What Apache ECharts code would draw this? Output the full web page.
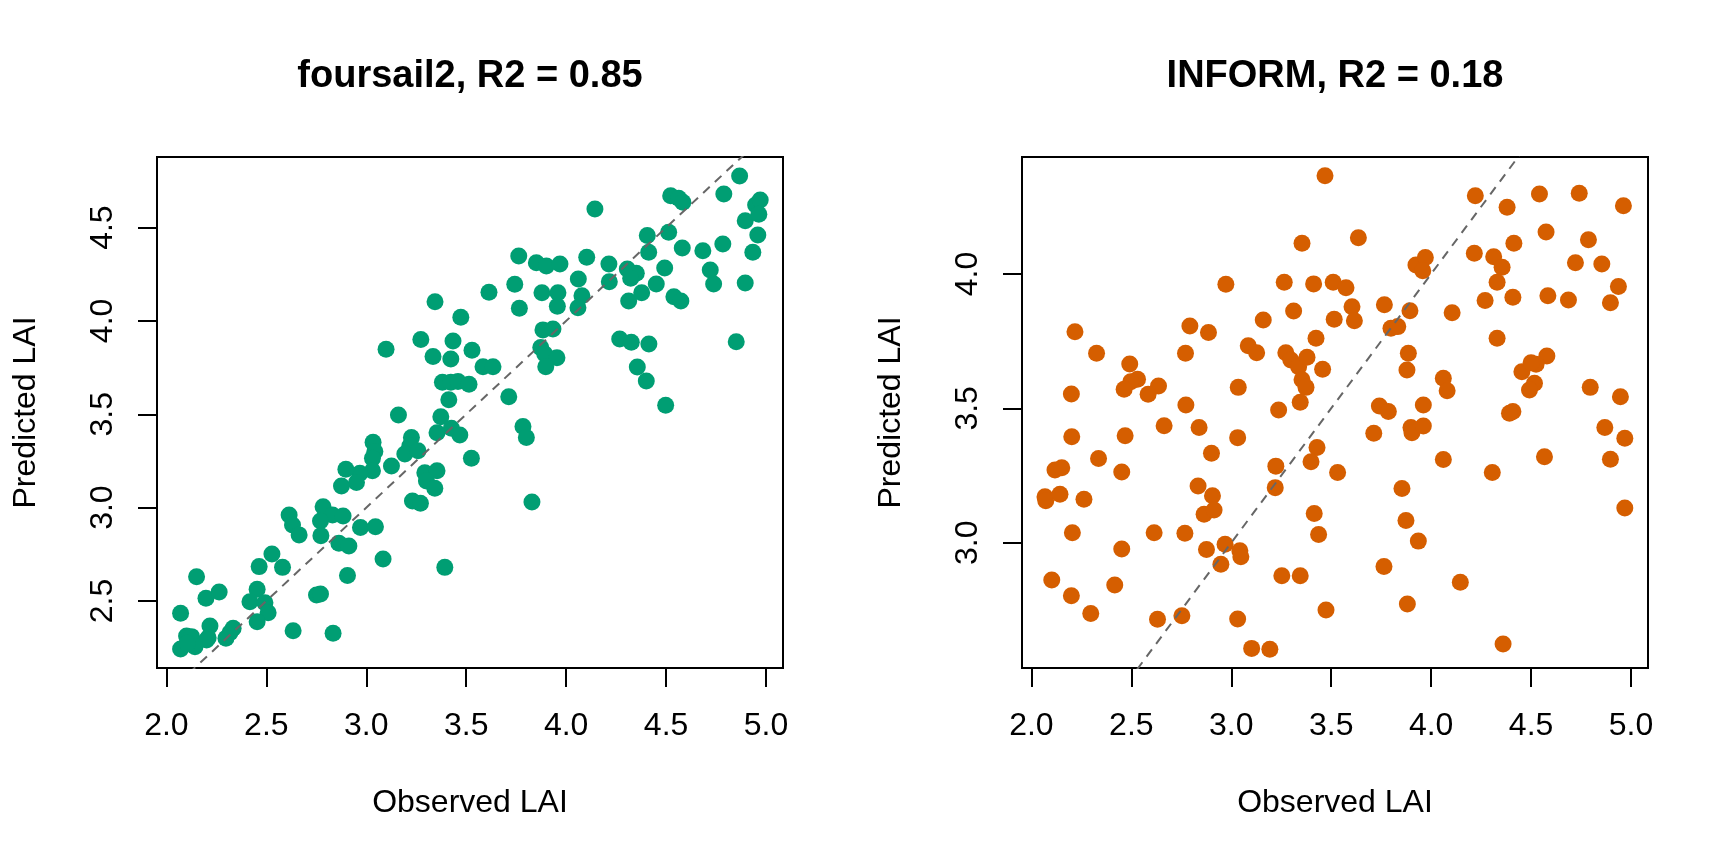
<!DOCTYPE html>
<html><head><meta charset="utf-8">
<script src="https://cdn.jsdelivr.net/npm/echarts@6/dist/echarts.min.js"></script>
<style>html,body{margin:0;padding:0;background:#fff}#c{width:1728px;height:864px}</style>
</head><body><div id="c"></div>
<script>
const xTicks = [2.0, 2.5, 3.0, 3.5, 4.0, 4.5, 5.0];
const foursailYTicks = [2.5, 3.0, 3.5, 4.0, 4.5];
const informYTicks = [3.0, 3.5, 4.0];
const titles = ['foursail2, R2 = 0.85', 'INFORM, R2 = 0.18'];
const xName = 'Observed LAI';
const yName = 'Predicted LAI';

const foursailObserved = [3.344,3.473,3.099,3.273,3.434,3.334,3.423,3.529,3.381,3.423,3.459,3.514,3.413,3.161,3.373,
3.584,3.634,3.614,3.763,3.743,3.766,3.851,3.901,3.969,3.879,3.959,3.956,4.144,4.103,4.061,4.079,4.059,4.214,4.216,4.306,
4.351,4.323,4.313,4.378,4.406,4.413,4.451,4.493,4.513,4.523,4.563,4.584,4.581,4.539,4.574,4.684,4.721,4.738,4.784,4.789,
4.868,4.896,4.934,4.896,4.959,4.948,4.971,4.964,4.851,4.268,4.326,4.414,4.356,4.401,4.498,3.713,3.884,3.934,3.873,3.893,
3.954,3.898,3.784,3.801,3.526,3.829,3.426,3.468,3.354,3.226,3.218,3.193,3.259,3.034,3.043,3.031,3.031,3.126,2.968,2.951,
2.898,2.876,3.293,3.354,3.301,3.343,3.231,3.271,3.393,3.084,2.906,2.784,2.831,2.884,2.771,2.773,2.863,2.913,2.971,3.046,
2.614,2.631,2.664,2.528,2.464,2.581,2.151,2.198,2.264,2.071,2.454,2.418,2.493,2.509,2.454,2.751,2.771,2.634,2.834,2.218,
2.334,2.318,2.298,2.209,2.201,2.101,2.126,2.143,2.071,2.104];
const foursailPredicted = [4.103,4.020,3.848,3.900,3.893,3.809,3.796,3.843,3.671,3.671,3.675,3.661,3.578,3.496,3.487,
3.755,3.755,4.153,4.348,4.196,4.068,4.312,4.294,4.305,4.151,4.151,4.078,4.600,4.341,4.225,4.135,4.071,4.305,4.210,4.278,
4.255,4.228,4.107,4.151,4.457,4.368,4.198,4.284,4.475,4.671,4.657,4.636,4.391,4.130,4.107,4.376,4.273,4.198,4.412,4.680,
4.776,4.537,4.368,4.203,4.460,4.621,4.648,4.571,3.889,3.903,3.886,3.877,3.753,3.678,3.548,3.594,3.952,3.957,3.857,3.823,
3.803,3.755,3.434,3.375,3.264,3.030,3.425,3.389,3.401,3.375,3.330,3.287,3.305,3.350,3.300,3.264,3.198,3.223,3.184,3.134,
3.205,3.116,3.187,3.198,3.143,3.104,3.036,3.023,2.680,2.725,2.636,3.005,2.961,2.955,2.928,2.850,2.809,2.795,2.893,2.898,
2.961,2.907,2.854,2.752,2.684,2.680,2.630,2.514,2.548,2.434,2.563,2.496,2.491,2.437,2.389,2.532,2.537,2.341,2.327,2.366,
2.354,2.330,2.300,2.303,2.291,2.313,2.309,2.255,2.243,2.273];

const informObserved = [3.469,3.354,2.973,3.265,3.412,3.510,3.574,3.312,3.515,3.160,2.218,2.793,2.886,3.424,2.326,2.771,
3.085,3.127,3.273,3.298,3.337,3.379,3.457,2.492,2.531,2.497,2.464,2.636,2.584,2.200,3.035,3.354,3.374,2.773,3.237,3.345,
2.664,2.839,2.202,2.469,3.032,2.901,2.336,2.118,2.152,2.452,2.068,2.072,2.143,2.263,2.834,2.906,2.864,2.914,3.223,3.220,
3.429,3.399,3.532,3.415,3.437,2.205,2.614,2.768,2.452,2.876,2.969,3.043,3.048,2.948,2.102,2.417,2.200,2.297,2.631,2.753,
3.032,3.253,3.345,3.474,3.102,3.193,
3.636,3.604,3.616,4.221,4.380,4.542,4.741,4.962,4.575,4.787,4.414,4.216,4.313,4.355,4.722,4.854,4.330,4.270,4.409,4.584,
4.687,4.937,4.897,3.924,3.971,3.958,3.766,3.894,4.105,3.799,3.833,4.330,3.886,3.879,4.061,4.080,3.741,3.786,3.961,4.579,
4.525,4.454,4.500,4.517,4.492,4.796,4.947,4.409,4.392,
3.713,3.899,3.904,3.961,4.061,4.306,4.567,4.869,4.969,4.897,4.969,3.854,3.874,3.936,3.764,4.146,3.881,4.360];
const informPredicted = [4.365,4.114,3.962,3.969,3.963,3.969,3.949,3.862,3.831,3.829,3.785,3.806,3.782,3.761,3.705,3.705,
3.733,3.707,3.707,3.680,3.655,3.690,3.645,3.665,3.608,3.599,3.571,3.583,3.552,3.553,3.578,3.606,3.578,3.512,3.494,3.523,
3.435,3.429,3.394,3.398,3.391,3.333,3.313,3.271,3.279,3.263,3.171,3.156,3.180,3.162,3.211,3.175,3.106,3.122,3.285,3.205,
3.354,3.301,3.261,3.109,3.031,3.037,3.037,3.035,2.977,2.975,2.994,2.970,2.948,2.920,2.861,2.843,2.803,2.737,2.715,2.728,
2.716,2.877,2.877,2.750,2.607,2.604,
4.135,3.878,3.826,4.291,4.248,4.297,4.300,4.254,4.156,4.127,4.114,4.077,4.064,4.025,4.042,4.037,3.969,3.901,3.913,3.919,
3.903,3.953,3.893,4.033,4.061,4.012,3.885,3.863,3.856,3.798,3.804,3.761,3.705,3.643,3.612,3.565,3.509,3.488,3.512,3.695,
3.664,3.636,3.670,3.593,3.568,3.578,3.543,3.488,3.482,
3.407,3.429,3.409,3.434,3.310,3.261,3.320,3.429,3.389,3.311,3.129,3.202,3.083,3.006,2.912,2.853,2.772,2.623];

const oneToOne = [1, 6];

const F = '"Liberation Sans", Arial, Helvetica, sans-serif';
const xRange = [1.953, 5.085];
const yRanges = [[2.141, 4.878], [2.534, 4.435]];
const colors = ['#009E73', '#D55E00'];
const gridLefts = [157, 1022];
const gridW = 626, gridTop = 157, gridH = 511;

function pairs(xs, ys) { return xs.map((x, i) => [x, ys[i]]); }

const option = {
  animation: false,
  backgroundColor: '#fff',
  title: titles.map((t, i) => ({
    text: t, left: gridLefts[i] + gridW / 2, top: 58, textAlign: 'center', padding: 0,
    textStyle: { fontFamily: F, fontSize: 38, fontWeight: 'bold', color: '#000' }
  })),
  grid: gridLefts.map(l => ({ left: l, top: gridTop, width: gridW, height: gridH, show: true,
    borderColor: '#000', borderWidth: 2, backgroundColor: 'transparent', containLabel: false })),
  xAxis: [0, 1].map(i => ({
    type: 'value', gridIndex: i, min: xRange[0], max: xRange[1],
    name: xName, nameLocation: 'middle', nameGap: 119,
    nameTextStyle: { fontFamily: F, fontSize: 32, color: '#000' },
    axisLine: { show: true, lineStyle: { color: '#000', width: 2 } },
    axisTick: { show: true, inside: false, length: 19, lineStyle: { color: '#000', width: 2 }, customValues: xTicks },
    axisLabel: { customValues: xTicks, formatter: v => v.toFixed(1), fontFamily: F, fontSize: 32, color: '#000', margin: 42 },
    splitLine: { show: false }
  })),
  yAxis: [0, 1].map(i => {
    const ticks = i === 0 ? foursailYTicks : informYTicks;
    return {
      type: 'value', gridIndex: i, min: yRanges[i][0], max: yRanges[i][1],
      name: yName, nameLocation: 'middle', nameGap: 115, nameRotate: 90,
      nameTextStyle: { fontFamily: F, fontSize: 32, color: '#000' },
      axisLine: { show: true, lineStyle: { color: '#000', width: 2 } },
      axisTick: { show: true, inside: false, length: 19, lineStyle: { color: '#000', width: 2 }, customValues: ticks },
      axisLabel: { customValues: ticks, rotate: 90, formatter: v => v.toFixed(1), fontFamily: F, fontSize: 32, color: '#000', margin: 38 },
      splitLine: { show: false }
    };
  }),
  series: [
    { type: 'scatter', xAxisIndex: 0, yAxisIndex: 0, symbol: 'circle', symbolSize: 17,
      itemStyle: { color: colors[0], opacity: 1 }, data: pairs(foursailObserved, foursailPredicted), z: 2 },
    { type: 'scatter', xAxisIndex: 1, yAxisIndex: 1, symbol: 'circle', symbolSize: 17,
      itemStyle: { color: colors[1], opacity: 1 }, data: pairs(informObserved, informPredicted), z: 2 },
    ...[0, 1].map(i => ({ type: 'line', xAxisIndex: i, yAxisIndex: i, clip: true, symbol: 'none', silent: true,
      data: oneToOne.map(v => [v, v]),
      lineStyle: { color: '#666666', width: 2, type: [9, 7] }, z: 3 }))
  ]
};
const chart = echarts.init(document.getElementById('c'), null, { renderer: 'canvas' });
chart.setOption(option);
</script></body></html>
